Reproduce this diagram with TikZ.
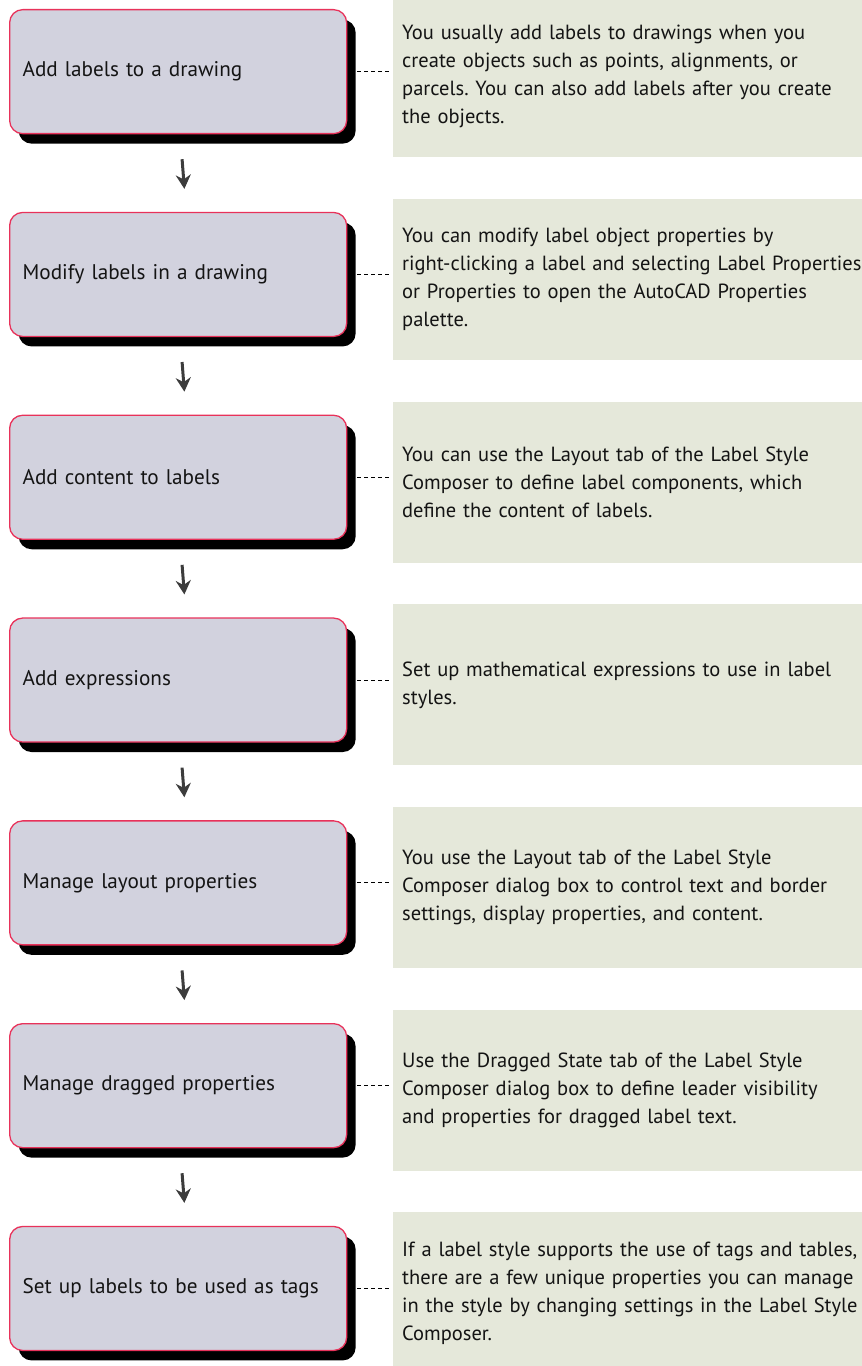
\documentclass[tikz,border=0pt]{standalone}
\usepackage{fontspec}
\setmainfont{PT Sans}
\frenchspacing
\hyphenpenalty=10000
\usetikzlibrary{shadows,arrows.meta}
\definecolor{stepfill}{HTML}{D2D2DE}
\definecolor{stepline}{HTML}{E8325A}
\definecolor{notefill}{HTML}{E5E8DA}
\definecolor{arrowgray}{HTML}{3C3C3C}
\definecolor{inktext}{HTML}{141414}
\begin{document}
\begin{tikzpicture}[x=1bp,y=-1bp,
  stepbox/.style={draw=stepline, line width=1.3bp, fill=stepfill,
    rounded corners=13bp, minimum width=337bp, minimum height=124bp,
    text width=311bp, inner xsep=13bp, inner ysep=0bp, align=left,
    anchor=north west, text=inktext,
    font=\fontsize{21.2bp}{28bp}\selectfont,
    general shadow={fill=black, shadow xshift=9bp, shadow yshift=-10bp}},
  notebox/.style={fill=notefill, minimum width=468bp, minimum height=161bp,
    text width=520bp, inner xsep=9bp, inner ysep=0bp, align=left,
    anchor=north west, text=inktext,
    font=\fontsize{20.5bp}{28bp}\selectfont},
  leader/.style={dash pattern=on 4bp off 3bp, line width=0.9bp,
    shorten <=10bp, shorten >=3bp},
  flow/.style={arrowgray, line width=3bp, -{Stealth[length=14bp,width=15bp]},
    shorten <=25bp, shorten >=23bp}]

\useasboundingbox (0,0) rectangle (861,1366);

% process steps
\node[stepbox] (s1) at (9,9)      {Add labels to a drawing};
\node[stepbox] (s2) at (9,211.8)  {Modify labels in a drawing};
\node[stepbox] (s3) at (9,414.6)  {Add content to labels};
\node[stepbox] (s4) at (9,617.4)  {Add expressions};
\node[stepbox] (s5) at (9,820.2)  {Manage layout properties};
\node[stepbox] (s6) at (9,1023)   {Manage dragged properties};
\node[stepbox] (s7) at (9,1225.8) {Set up labels to be used as tags};

% explanatory notes (the note panels run on past the right edge)
\node[notebox] (n1) at (393,-4) {You usually add labels to drawings when you\\
create objects such as points, alignments, or\\
parcels. You can also add labels after you create\\
the objects.};
\node[notebox] (n2) at (393,198.7) {You can modify label object properties by\\
right-clicking a label and selecting Label Properties\\
or Properties to open the AutoCAD Properties\\
palette.};
\node[notebox] (n3) at (393,401.4) {You can use the Layout tab of the Label Style\\
Composer to define label components, which\\
define the content of labels.};
\node[notebox] (n4) at (393,604.1) {Set up mathematical expressions to use in label\\
styles.};
\node[notebox] (n5) at (393,806.8) {You use the Layout tab of the Label Style\\
Composer dialog box to control text and border\\
settings, display properties, and content.};
\node[notebox] (n6) at (393,1009.5) {Use the Dragged State tab of the Label Style\\
Composer dialog box to define leader visibility\\
and properties for dragged label text.};
\node[notebox] (n7) at (393,1212.2) {If a label style supports the use of tags and tables,\\
there are a few unique properties you can manage\\
in the style by changing settings in the Label Style\\
Composer.};

% leaders from each step to its note
\foreach \i in {1,...,7}
  \draw[leader] (s\i.east) -- (n\i.west |- s\i.east);

% flow arrows between consecutive steps
\foreach \i/\j in {1/2,2/3,3/4,4/5,5/6,6/7}
  \draw[flow] ([xshift=2bp]s\i.south) -- ([xshift=8bp]s\j.north);
\end{tikzpicture}
\end{document}
